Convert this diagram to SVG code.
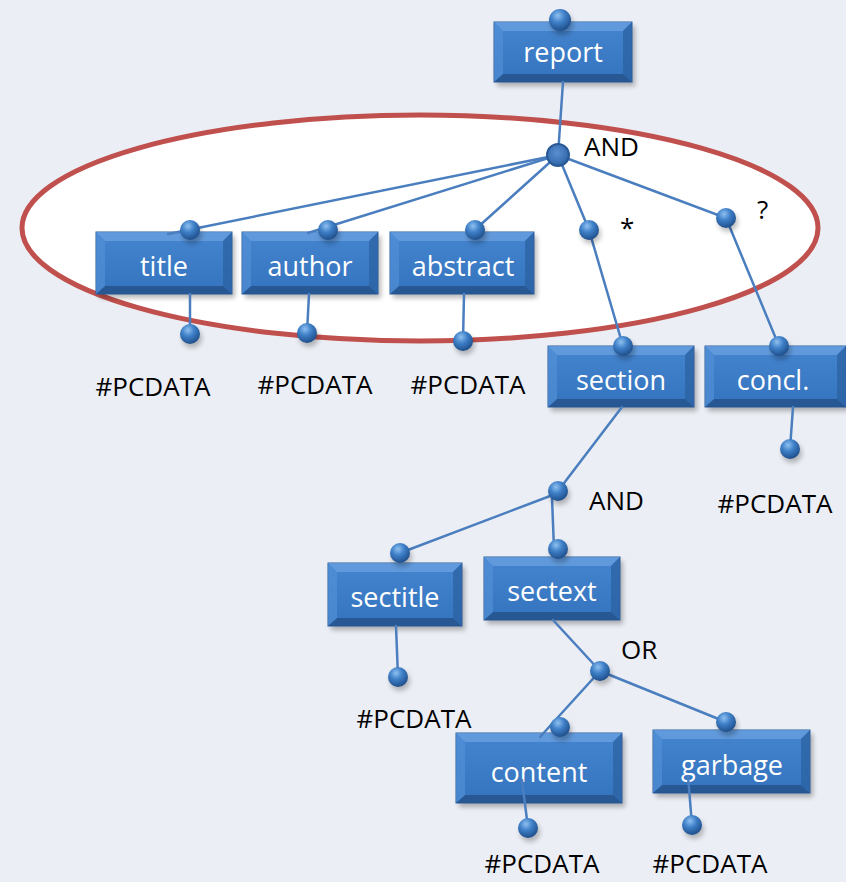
<svg xmlns="http://www.w3.org/2000/svg" width="846" height="882" viewBox="0 0 846 882">
  <defs>
    <radialGradient id="ballGrad" cx="0.4" cy="0.3" r="0.7">
      <stop offset="0" stop-color="#8fc0f0"/>
      <stop offset="0.45" stop-color="#3f80c8"/>
      <stop offset="1" stop-color="#1f4f8c"/>
    </radialGradient>
    <radialGradient id="hubGrad" cx="0.45" cy="0.4" r="0.65">
      <stop offset="0" stop-color="#5a8fd0"/>
      <stop offset="0.7" stop-color="#3a70b4"/>
      <stop offset="1" stop-color="#24548f"/>
    </radialGradient>
    <linearGradient id="faceGrad" x1="0" y1="0" x2="0" y2="1">
      <stop offset="0" stop-color="#4585cf"/>
      <stop offset="1" stop-color="#3473bd"/>
    </linearGradient>
    <filter id="shadow" x="-20%" y="-20%" width="140%" height="150%">
      <feGaussianBlur stdDeviation="2.5"/>
    </filter>
  </defs>
  <style>
    .bg { fill: #ebeef4; }
    .oval { fill: #ffffff; stroke: #c0504d; stroke-width: 5; }
    .shade { fill: #000000; opacity: 0.28; filter: url(#shadow); }
    .face { fill: url(#faceGrad); stroke: #2f5f9c; stroke-width: 1; }
    .bt { fill: #6ea4e2; opacity: 0.7; }
    .bb { fill: #24538c; opacity: 0.85; }
    .bl { fill: #5592d8; opacity: 0.6; }
    .br { fill: #2c62a3; opacity: 0.75; }
    .lbl { font-family: "Open Sans", "Noto Sans", sans-serif; font-size: 27px; fill: #ffffff; text-anchor: middle; }
    .txt { font-family: "Open Sans", "Noto Sans", sans-serif; font-size: 26px; fill: #000000; }
    .mid { text-anchor: middle; }
    .edge { stroke: #4a7ebf; stroke-width: 2.5; fill: none; stroke-linecap: round; }
    .ball { fill: url(#ballGrad); }
    .ballshade { fill: #000000; opacity: 0.25; filter: url(#shadow); }
    .hub { fill: url(#hubGrad); stroke: #2a5a96; stroke-width: 2; }
  </style>

  <rect class="bg" x="0" y="0" width="846" height="882"/>

  <!-- grouping oval around the first-level content model -->
  <ellipse class="oval" cx="420" cy="228" rx="398" ry="113"/>

  <!-- element boxes -->
  <g id="report">
    <rect class="shade" x="497" y="26" width="138" height="60"/>
    <rect class="face" x="494" y="22" width="138" height="60"/>
    <polygon class="bt" points="494,22 632,22 623,31 503,31"/>
    <polygon class="bb" points="494,82 632,82 623,74 503,74"/>
    <polygon class="bl" points="494,22 503,31 503,74 494,82"/>
    <polygon class="br" points="632,22 623,31 623,74 632,82"/>
    <text class="lbl" x="563" y="62">report</text>
  </g>
  <g id="title">
    <rect class="shade" x="99" y="236" width="136" height="62"/>
    <rect class="face" x="96" y="232" width="136" height="62"/>
    <polygon class="bt" points="96,232 232,232 223,241 105,241"/>
    <polygon class="bb" points="96,294 232,294 223,286 105,286"/>
    <polygon class="bl" points="96,232 105,241 105,286 96,294"/>
    <polygon class="br" points="232,232 223,241 223,286 232,294"/>
    <text class="lbl" x="164" y="276">title</text>
  </g>
  <g id="author">
    <rect class="shade" x="245" y="236" width="136" height="62"/>
    <rect class="face" x="242" y="232" width="136" height="62"/>
    <polygon class="bt" points="242,232 378,232 369,241 251,241"/>
    <polygon class="bb" points="242,294 378,294 369,286 251,286"/>
    <polygon class="bl" points="242,232 251,241 251,286 242,294"/>
    <polygon class="br" points="378,232 369,241 369,286 378,294"/>
    <text class="lbl" x="310" y="276">author</text>
  </g>
  <g id="abstract">
    <rect class="shade" x="393" y="236" width="144" height="62"/>
    <rect class="face" x="390" y="232" width="144" height="62"/>
    <polygon class="bt" points="390,232 534,232 525,241 399,241"/>
    <polygon class="bb" points="390,294 534,294 525,286 399,286"/>
    <polygon class="bl" points="390,232 399,241 399,286 390,294"/>
    <polygon class="br" points="534,232 525,241 525,286 534,294"/>
    <text class="lbl" x="463" y="276">abstract</text>
  </g>
  <g id="section">
    <rect class="shade" x="551" y="350" width="146" height="61"/>
    <rect class="face" x="548" y="346" width="146" height="61"/>
    <polygon class="bt" points="548,346 694,346 685,355 557,355"/>
    <polygon class="bb" points="548,407 694,407 685,399 557,399"/>
    <polygon class="bl" points="548,346 557,355 557,399 548,407"/>
    <polygon class="br" points="694,346 685,355 685,399 694,407"/>
    <text class="lbl" x="621" y="390">section</text>
  </g>
  <g id="concl">
    <rect class="shade" x="708" y="350" width="141" height="61"/>
    <rect class="face" x="705" y="346" width="141" height="61"/>
    <polygon class="bt" points="705,346 846,346 837,355 714,355"/>
    <polygon class="bb" points="705,407 846,407 837,399 714,399"/>
    <polygon class="bl" points="705,346 714,355 714,399 705,407"/>
    <polygon class="br" points="846,346 837,355 837,399 846,407"/>
    <text class="lbl" x="773" y="390">concl.</text>
  </g>
  <g id="sectitle">
    <rect class="shade" x="331" y="567" width="134" height="63"/>
    <rect class="face" x="328" y="563" width="134" height="63"/>
    <polygon class="bt" points="328,563 462,563 453,572 337,572"/>
    <polygon class="bb" points="328,626 462,626 453,618 337,618"/>
    <polygon class="bl" points="328,563 337,572 337,618 328,626"/>
    <polygon class="br" points="462,563 453,572 453,618 462,626"/>
    <text class="lbl" x="395" y="607">sectitle</text>
  </g>
  <g id="sectext">
    <rect class="shade" x="487" y="561" width="136" height="63"/>
    <rect class="face" x="484" y="557" width="136" height="63"/>
    <polygon class="bt" points="484,557 620,557 611,566 493,566"/>
    <polygon class="bb" points="484,620 620,620 611,612 493,612"/>
    <polygon class="bl" points="484,557 493,566 493,612 484,620"/>
    <polygon class="br" points="620,557 611,566 611,612 620,620"/>
    <text class="lbl" x="552" y="601">sectext</text>
  </g>
  <g id="content">
    <rect class="shade" x="459" y="737" width="166" height="70"/>
    <rect class="face" x="456" y="733" width="166" height="70"/>
    <polygon class="bt" points="456,733 622,733 613,742 465,742"/>
    <polygon class="bb" points="456,803 622,803 613,795 465,795"/>
    <polygon class="bl" points="456,733 465,742 465,795 456,803"/>
    <polygon class="br" points="622,733 613,742 613,795 622,803"/>
    <text class="lbl" x="539" y="782">content</text>
  </g>
  <g id="garbage">
    <rect class="shade" x="656" y="734" width="157" height="63"/>
    <rect class="face" x="653" y="730" width="157" height="63"/>
    <polygon class="bt" points="653,730 810,730 801,739 662,739"/>
    <polygon class="bb" points="653,793 810,793 801,785 662,785"/>
    <polygon class="bl" points="653,730 662,739 662,785 653,793"/>
    <polygon class="br" points="810,730 801,739 801,785 810,793"/>
    <text class="lbl" x="732" y="775">garbage</text>
  </g>

  <!-- connectors -->
  <g id="connectors">
    <line class="edge" x1="563" y1="82" x2="558" y2="155"/>
    <line class="edge" x1="558" y1="155" x2="168" y2="234"/>
    <line class="edge" x1="558" y1="155" x2="308" y2="233"/>
    <line class="edge" x1="558" y1="155" x2="478" y2="227"/>
    <polyline class="edge" points="558,155 589,230 623,346"/>
    <polyline class="edge" points="558,155 726,218 779,346"/>
    <line class="edge" x1="190" y1="294" x2="190" y2="334"/>
    <line class="edge" x1="309" y1="294" x2="307" y2="333"/>
    <line class="edge" x1="464" y1="294" x2="463" y2="341"/>
    <line class="edge" x1="793" y1="407" x2="790" y2="449"/>
    <line class="edge" x1="622" y1="407" x2="558" y2="491"/>
    <line class="edge" x1="558" y1="493" x2="400" y2="553"/>
    <line class="edge" x1="552" y1="498" x2="554" y2="549"/>
    <line class="edge" x1="396" y1="626" x2="398" y2="677"/>
    <line class="edge" x1="553" y1="620" x2="600" y2="671"/>
    <line class="edge" x1="600" y1="671" x2="540" y2="737"/>
    <line class="edge" x1="600" y1="671" x2="726" y2="722"/>
    <line class="edge" x1="522" y1="780" x2="528" y2="828"/>
    <line class="edge" x1="688" y1="776" x2="692" y2="825"/>

    <!-- connection ports -->
    <circle class="hub" cx="558" cy="155" r="11"/>
    <g id="ports">
      <circle class="ballshade" cx="562" cy="24" r="11"/>
      <circle class="ball" cx="560" cy="20" r="11"/>
      <circle class="ballshade" cx="192" cy="234" r="10"/>
      <circle class="ball" cx="190" cy="230" r="10"/>
      <circle class="ballshade" cx="192" cy="338" r="10"/>
      <circle class="ball" cx="190" cy="334" r="10"/>
      <circle class="ballshade" cx="330" cy="234" r="10"/>
      <circle class="ball" cx="328" cy="230" r="10"/>
      <circle class="ballshade" cx="309" cy="337" r="10"/>
      <circle class="ball" cx="307" cy="333" r="10"/>
      <circle class="ballshade" cx="477" cy="234" r="10"/>
      <circle class="ball" cx="475" cy="230" r="10"/>
      <circle class="ballshade" cx="465" cy="345" r="10"/>
      <circle class="ball" cx="463" cy="341" r="10"/>
      <circle class="ballshade" cx="591" cy="234" r="10"/>
      <circle class="ball" cx="589" cy="230" r="10"/>
      <circle class="ballshade" cx="728" cy="222" r="10"/>
      <circle class="ball" cx="726" cy="218" r="10"/>
      <circle class="ballshade" cx="625" cy="350" r="10"/>
      <circle class="ball" cx="623" cy="346" r="10"/>
      <circle class="ballshade" cx="781" cy="350" r="10"/>
      <circle class="ball" cx="779" cy="346" r="10"/>
      <circle class="ballshade" cx="792" cy="453" r="10"/>
      <circle class="ball" cx="790" cy="449" r="10"/>
      <circle class="ballshade" cx="560" cy="495" r="10"/>
      <circle class="ball" cx="558" cy="491" r="10"/>
      <circle class="ballshade" cx="402" cy="557" r="10"/>
      <circle class="ball" cx="400" cy="553" r="10"/>
      <circle class="ballshade" cx="400" cy="681" r="10"/>
      <circle class="ball" cx="398" cy="677" r="10"/>
      <circle class="ballshade" cx="560" cy="553" r="10"/>
      <circle class="ball" cx="558" cy="549" r="10"/>
      <circle class="ballshade" cx="602" cy="675" r="10"/>
      <circle class="ball" cx="600" cy="671" r="10"/>
      <circle class="ballshade" cx="562" cy="731" r="10"/>
      <circle class="ball" cx="560" cy="727" r="10"/>
      <circle class="ballshade" cx="530" cy="832" r="10"/>
      <circle class="ball" cx="528" cy="828" r="10"/>
      <circle class="ballshade" cx="728" cy="726" r="10"/>
      <circle class="ball" cx="726" cy="722" r="10"/>
      <circle class="ballshade" cx="694" cy="829" r="10"/>
      <circle class="ball" cx="692" cy="825" r="10"/>
    </g>
  </g>

  <!-- operators and text leaves -->
  <g id="labels">
    <text class="txt" x="584" y="156">AND</text>
    <text class="txt" x="620" y="237">*</text>
    <text class="txt" x="757" y="219">?</text>
    <text class="txt" x="589" y="510">AND</text>
    <text class="txt" x="621" y="659">OR</text>
    <text class="txt mid" x="153" y="396">#PCDATA</text>
    <text class="txt mid" x="315" y="394">#PCDATA</text>
    <text class="txt mid" x="468" y="394">#PCDATA</text>
    <text class="txt mid" x="775" y="513">#PCDATA</text>
    <text class="txt mid" x="414" y="728">#PCDATA</text>
    <text class="txt mid" x="542" y="873">#PCDATA</text>
    <text class="txt mid" x="710" y="873">#PCDATA</text>
  </g>
</svg>
